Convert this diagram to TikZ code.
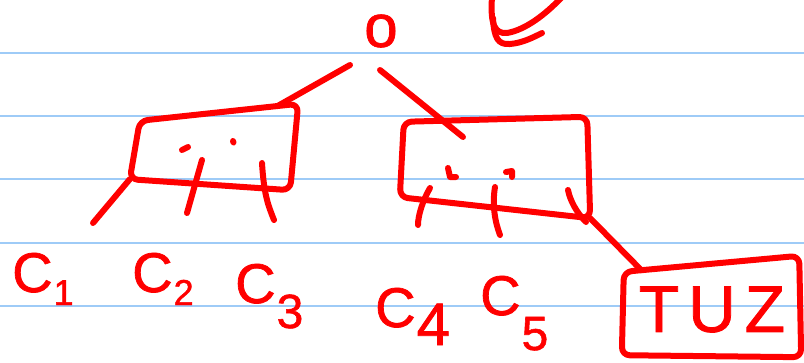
\documentclass[tikz,border=0pt]{standalone}
\usepackage{fontspec}
\setmainfont{Liberation Sans}
\newfontfamily\hand{Liberation Sans}[FakeBold=1.2]
\usetikzlibrary{calc}
\definecolor{ink}{RGB}{255,0,0}
\definecolor{rulecol}{RGB}{158,203,247}
% #1 index, #2 index font size, #3 drop below the baseline
\newcommand\clab[3]{C\kern1pt\raisebox{-#3pt}{\fontsize{#2}{#2}\selectfont #1}}
\begin{document}
\begin{tikzpicture}[x=1pt,y=-1pt,
  pen/.style={draw=ink,line width=6pt,line cap=round,line join=round},
  frame/.style={rectangle,inner sep=0pt},
  outline/.style={pen,rounded corners=8pt},
  lbl/.style={text=ink,inner sep=0pt,anchor=base west,font=\hand\fontsize{56}{56}\selectfont},
  notebook/.style={draw=rulecol,line width=2pt}]
\fill[white] (0,0) rectangle (804,362);
\useasboundingbox (0,0) rectangle (804,362);
\foreach \yy in {52.7,115.7,179,242.7,305.8} \draw[notebook] (0,\yy) -- (804,\yy);

% nodes
\node[text=ink,inner sep=0pt,font=\hand\fontsize{60}{60}\selectfont] (o) at (381,31) {o};
\node[frame,minimum width=163pt,minimum height=72pt] (L) at (214.5,148) {};
\node[frame,minimum width=185pt,minimum height=88pt] (R) at (493.5,161) {};
\node[frame,minimum width=178pt,minimum height=95pt,text=ink,font=\hand\fontsize{66}{66}\selectfont] (T) at (712,309.5) {T\kern9pt U\kern9pt Z};
\node[lbl] (c1) at (12,292) {\clab{1}{36}{13}};
\node[lbl] (c2) at (132,292) {\clab{2}{36}{13}};
\node[lbl] (c3) at (235,303) {\clab{3}{48}{25}};
\node[lbl] (c4) at (375,327) {\clab{4}{60}{18}};
\node[lbl] (c5) at (480,315) {\clab{5}{48}{35}};

% hand-drawn box outlines around the nodes
\coordinate (L-tl) at ($(L.north west)+(7,9)$);
\coordinate (L-tr) at ($(L.north east)+(2,-8)$);
\coordinate (L-br) at ($(L.south east)+(-6,6)$);
\coordinate (L-bl) at ($(L.south west)+(-3,-5)$);
\draw[outline] (L-tl) -- (L-tr) -- (L-br) -- (L-bl) -- cycle;
\coordinate (R-tl) at ($(R.north west)+(3,5)$);
\coordinate (R-tr) at ($(R.north east)+(1,0)$);
\coordinate (R-br) at ($(R.south east)+(4,13)$);
\coordinate (R-bl) at ($(R.south west)+(-1,-8)$);
\draw[outline] (R-tl) -- (R-tr) -- (R-br) -- (R-bl) -- cycle;
\coordinate (T-tl) at ($(T.north west)+(1,10)$);
\coordinate (T-tr) at ($(T.north east)+(-2,-6)$);
\coordinate (T-br) at ($(T.south east)+(0,0)$);
\coordinate (T-bl) at ($(T.south west)+(-1,-2)$);
\draw[outline] (T-tl) -- (T-tr) -- (T-br) -- (T-bl) -- cycle;

% connectors
\coordinate (oL) at (350,65);
\coordinate (oR) at (380,70);
\coordinate (Rin) at (463,137);
\coordinate (c1top) at (93,223);
\draw[pen] (oL) -- ($(L-tr)!0.13!(L-tl)$);
\draw[pen] (oR) -- (Rin);
\draw[pen] (R-br) -- ($(T-tl)!0.1!(T-tr)$);
\draw[pen] (L-bl) -- (c1top);

% pointer ticks and dots in the left box
\draw[pen] (202,160) -- (187,213);
\draw[pen] (262,163) .. controls (264,195) and (268,205) .. (274,220);
\draw[pen] (182,150) -- (188,147);
\draw[pen] (233,141) -- (233.5,142.5);
% pointer ticks and dots in the right box
\draw[pen] (430,188) .. controls (423,200) and (418,215) .. (418,225);
\draw[pen] (495,187) .. controls (492,205) and (495,222) .. (500,235);
\draw[pen] (568,190) .. controls (570,200) and (576,212) .. (586,222);
\draw[pen] (448,168) -- (450,177) -- (456,177);
\draw[pen] (506,172) -- (512,171) -- (512,177);

% tick mark doodle at the top
\draw[pen] (492,-3) .. controls (490,25) and (495,34) .. (507,33) .. controls (525,30) and (545,15) .. (562,-3);
\draw[pen] (493,18) .. controls (494,38) and (498,45) .. (510,44) .. controls (522,43) and (532,38) .. (542,33);
\end{tikzpicture}
\end{document}
